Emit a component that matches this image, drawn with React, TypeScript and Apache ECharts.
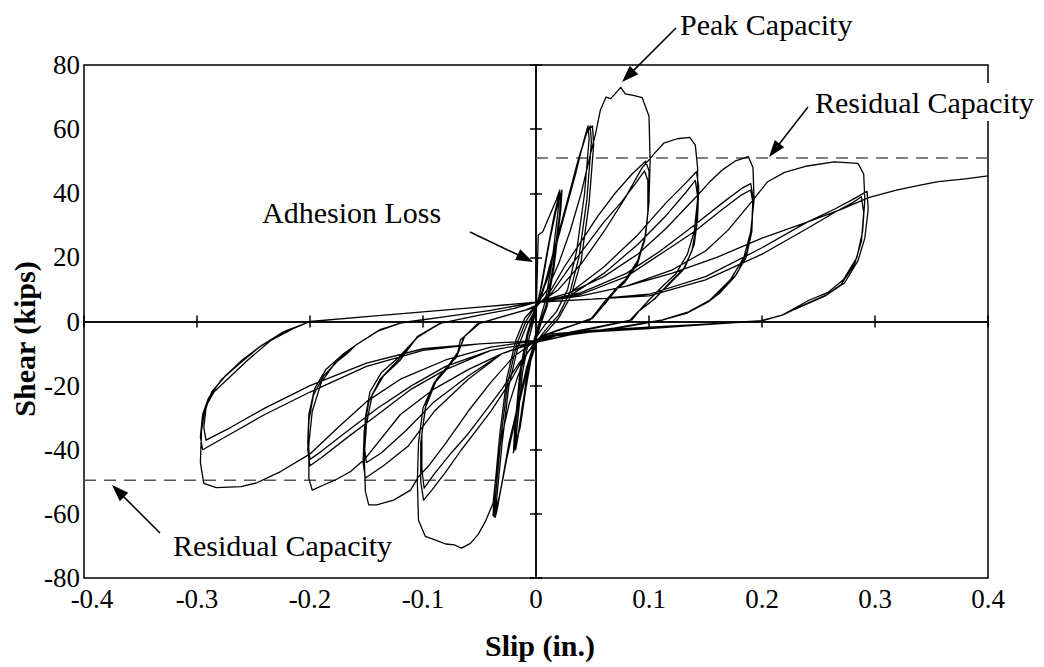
import { useEffect, useRef } from "react";
import * as echarts from "echarts";

// ---- Data (slip in inches, shear in kips) ----
const adhesionCycles: number[][] = [
  [0, 0], [0.001, 14], [0.002, 27], [0.006, 28], [0.012, 33], [0.018, 38], [0.021, 41], [0.02, 36], [0.014, 18], [0.008, 6], [0.003, 0],
  [-0.002, -6], [-0.007, -16], [-0.012, -26], [-0.016, -36], [-0.018, -40], [-0.017, -34], [-0.012, -16], [-0.006, -5], [-0.001, 2],
  [0.004, 10], [0.01, 22], [0.016, 33], [0.02, 39], [0.022, 40], [0.021, 34], [0.015, 17], [0.009, 5], [0.003, -1],
  [-0.003, -8], [-0.009, -19], [-0.013, -30], [-0.017, -38], [-0.019, -40], [-0.018, -33], [-0.013, -15], [-0.007, -4], [-0.001, 3],
  [0.005, 11], [0.012, 25], [0.018, 35], [0.023, 41], [0.022, 35], [0.016, 17], [0.01, 5], [0.004, -1],
  [-0.003, -9], [-0.009, -21], [-0.014, -33], [-0.02, -41], [-0.019, -34], [-0.014, -15], [-0.008, -4], [-0.002, 3],
];

const cycles005: number[][] = [
  [0.005, 8], [0.015, 20], [0.025, 33], [0.035, 46], [0.042, 56], [0.046, 61], [0.047, 57], [0.043, 40], [0.036, 22], [0.028, 10], [0.018, 3], [0.008, -1],
  [0, -5], [-0.008, -14], [-0.016, -26], [-0.024, -38], [-0.03, -50], [-0.034, -58], [-0.036, -61], [-0.035, -56], [-0.03, -38], [-0.024, -20], [-0.016, -8], [-0.008, -1], [0, 4],
  [0.008, 12], [0.018, 25], [0.028, 38], [0.037, 50], [0.044, 58], [0.048, 61], [0.049, 56], [0.045, 38], [0.038, 20], [0.03, 9], [0.02, 2], [0.01, -2],
  [0.001, -6], [-0.008, -15], [-0.017, -28], [-0.025, -41], [-0.031, -52], [-0.035, -59], [-0.037, -61], [-0.036, -55], [-0.031, -36], [-0.025, -19], [-0.017, -7], [-0.009, 0], [0, 5],
  [0.01, 13], [0.02, 27], [0.03, 40], [0.039, 52], [0.045, 59], [0.05, 61], [0.051, 55], [0.047, 37], [0.04, 19], [0.031, 8], [0.02, 1], [0.01, -3],
  [0, -7], [-0.009, -17], [-0.018, -30], [-0.026, -43], [-0.032, -54], [-0.036, -59], [-0.038, -60.5], [-0.037, -54], [-0.032, -35], [-0.026, -18], [-0.018, -6], [-0.01, 1], [0, 5],
];

const cycles010: number[][] = [
  [0.01, 10], [0.02, 18], [0.03, 28], [0.04, 40], [0.048, 52], [0.053, 59], [0.057, 66], [0.062, 70], [0.066, 69.5], [0.07, 71], [0.075, 73], [0.079, 71], [0.086, 70.5], [0.094, 69.8], [0.1, 64],
  [0.101, 50], [0.1, 38], [0.097, 27], [0.09, 18], [0.078, 12], [0.068, 9], [0.062, 6.7], [0.048, 0.5], [0.025, -2], [0.005, -4.5],
  [0, -6], [-0.008, -10], [-0.016, -17], [-0.024, -26], [-0.031, -37], [-0.036, -50], [-0.038, -56.7], [-0.045, -62.5], [-0.051, -66.3], [-0.058, -69.2], [-0.066, -70.7], [-0.072, -69.7], [-0.08, -69.4], [-0.09, -68], [-0.098, -67], [-0.104, -62],
  [-0.105, -50], [-0.104, -38], [-0.1, -27], [-0.09, -19], [-0.078, -14], [-0.07, -11], [-0.067, -5.8], [-0.05, -0.6], [-0.025, 2], [0, 4.5],
  [0.012, 9], [0.025, 17], [0.04, 25], [0.055, 33], [0.07, 40], [0.085, 46], [0.097, 50], [0.1, 47], [0.1, 37], [0.097, 27], [0.09, 19], [0.079, 13], [0.07, 10], [0.062, 6], [0.05, 1], [0.03, -1.5], [0.01, -4],
  [0, -6], [-0.012, -12], [-0.025, -20], [-0.04, -28], [-0.055, -35], [-0.066, -40], [-0.08, -47], [-0.092, -52.5], [-0.0995, -55.7], [-0.102, -50], [-0.102, -38], [-0.098, -27], [-0.089, -19], [-0.077, -14], [-0.069, -10], [-0.064, -5], [-0.052, -0.8], [-0.03, 1.5], [-0.01, 3.5], [0, 5],
  [0.014, 9], [0.03, 17], [0.045, 24], [0.06, 31], [0.075, 37], [0.088, 43], [0.096, 47], [0.099, 44], [0.099, 34], [0.096, 25], [0.089, 18], [0.078, 12.5], [0.069, 9], [0.061, 5.5], [0.049, 1], [0.03, -1.5], [0.01, -4],
  [0, -6.5], [-0.015, -13], [-0.03, -21], [-0.045, -28], [-0.06, -35], [-0.075, -41], [-0.09, -47.5], [-0.099, -52], [-0.101, -46], [-0.101, -35], [-0.097, -25], [-0.088, -18], [-0.076, -13], [-0.068, -9], [-0.063, -4.5], [-0.051, -0.7], [-0.03, 1.5], [-0.01, 3.5], [0, 5],
];

const cycles015: number[][] = [
  [0.02, 10], [0.04, 18], [0.06, 28], [0.078, 38], [0.094, 48], [0.105, 52.5], [0.113, 55.6], [0.125, 57], [0.136, 57.4], [0.141, 55], [0.143, 48], [0.143, 38], [0.14, 28], [0.134, 21], [0.124, 15], [0.112, 11], [0.1, 6.7], [0.092, 3.6], [0.085, 0.5], [0.05, -2], [0.02, -4],
  [0, -6], [-0.02, -11], [-0.04, -19], [-0.06, -28], [-0.08, -38], [-0.095, -45], [-0.104, -48.4], [-0.111, -52.6], [-0.126, -55.7], [-0.141, -57.2], [-0.148, -57.2], [-0.151, -53], [-0.152, -42], [-0.15, -32], [-0.145, -23], [-0.135, -17], [-0.12, -12], [-0.105, -4.7], [-0.085, -0.6], [-0.05, 2], [-0.02, 4], [0, 6],
  [0.03, 9], [0.06, 17], [0.09, 27], [0.115, 37], [0.132, 43], [0.142, 46.7], [0.144, 42], [0.143, 32], [0.14, 24], [0.132, 17], [0.118, 12], [0.105, 7], [0.092, 3.6], [0.085, 0.5], [0.05, -2], [0.02, -4],
  [0, -6], [-0.03, -10], [-0.06, -18], [-0.09, -28], [-0.113, -38.8], [-0.135, -45], [-0.151, -48.8], [-0.153, -44], [-0.152, -34], [-0.148, -25], [-0.138, -18], [-0.122, -12], [-0.105, -5], [-0.085, -0.6], [-0.05, 2], [-0.02, 4], [0, 6],
  [0.03, 8], [0.06, 15], [0.09, 24], [0.115, 33], [0.132, 40], [0.141, 44], [0.143, 39], [0.142, 30], [0.138, 22], [0.13, 16], [0.116, 11], [0.103, 6.5], [0.09, 3], [0.083, 0.3], [0.05, -2.2], [0.02, -4.2],
  [0, -6.5], [-0.03, -10], [-0.06, -17], [-0.09, -25], [-0.115, -34], [-0.137, -41], [-0.15, -44], [-0.152, -39], [-0.151, -30], [-0.147, -22], [-0.137, -16], [-0.121, -11], [-0.104, -4.5], [-0.084, -0.5], [-0.05, 2], [-0.02, 4], [0, 6],
];

const cycles020: number[][] = [
  [0.03, 9], [0.06, 14], [0.09, 21], [0.115, 29], [0.142, 39], [0.155, 44], [0.165, 47.3], [0.176, 50], [0.188, 51.4], [0.192, 48], [0.193, 38], [0.19, 28], [0.184, 20], [0.172, 13], [0.154, 6.7], [0.135, 3], [0.112, 0.5], [0.07, -2], [0.03, -4],
  [0, -6.5], [-0.03, -10], [-0.06, -15], [-0.09, -21], [-0.12, -29], [-0.151, -42.7], [-0.164, -46.8], [-0.178, -49.5], [-0.188, -51], [-0.198, -52.6], [-0.201, -49], [-0.201, -38], [-0.198, -28], [-0.19, -19], [-0.178, -13], [-0.167, -10], [-0.16, -7.5], [-0.14, -3], [-0.12, -0.5], [-0.08, 1.5], [-0.04, 3.5], [0, 6],
  [0.04, 9], [0.08, 15], [0.11, 22], [0.14, 30], [0.165, 37], [0.182, 41.5], [0.19, 43], [0.192, 39], [0.191, 30], [0.187, 22], [0.178, 15], [0.165, 10], [0.154, 6.7], [0.135, 3], [0.112, 0.5], [0.07, -2], [0.03, -4],
  [0, -6.5], [-0.04, -9], [-0.08, -15], [-0.11, -21], [-0.14, -29], [-0.17, -37], [-0.19, -42.5], [-0.2, -45], [-0.202, -40], [-0.201, -31], [-0.197, -23], [-0.188, -17], [-0.172, -11], [-0.16, -7.5], [-0.14, -3], [-0.12, -0.5], [-0.08, 1.5], [-0.04, 3.5], [0, 6],
  [0.04, 8.5], [0.08, 14], [0.11, 21], [0.14, 28], [0.165, 35], [0.182, 39.5], [0.19, 41], [0.192, 37], [0.191, 28], [0.186, 20], [0.176, 14], [0.163, 9], [0.152, 6], [0.133, 2.5], [0.11, 0.3], [0.07, -2.2], [0.03, -4.2],
  [0, -6.5], [-0.04, -9], [-0.08, -14], [-0.11, -20], [-0.14, -27], [-0.17, -35], [-0.19, -40.5], [-0.2, -43], [-0.202, -38], [-0.201, -29], [-0.196, -21], [-0.186, -15], [-0.17, -10], [-0.158, -7], [-0.138, -2.5], [-0.118, -0.3], [-0.08, 1.5], [-0.04, 3.5], [0, 6],
];

const cycles030: number[][] = [
  [0.04, 8], [0.08, 11], [0.12, 16], [0.15, 22], [0.17, 28.5], [0.19, 37], [0.205, 43.6], [0.22, 46.5], [0.24, 48.5], [0.264, 49.8], [0.285, 49.3], [0.29, 46], [0.291, 38], [0.289, 28], [0.284, 20], [0.272, 13], [0.258, 9], [0.242, 6.7], [0.218, 2], [0.2, 0.3], [0.15, -0.8], [0.1, -1.8], [0.05, -2.8], [0.01, -4],
  [0, -6], [-0.04, -8], [-0.08, -12], [-0.12, -18], [-0.15, -25], [-0.175, -33], [-0.2, -41.3], [-0.226, -46.8], [-0.247, -50.3], [-0.261, -51.5], [-0.283, -51.8], [-0.294, -50.5], [-0.297, -44], [-0.296, -34], [-0.293, -27], [-0.285, -22], [-0.27, -17], [-0.255, -12], [-0.235, -6], [-0.215, -2.2], [-0.2, 0], [-0.15, 1.5], [-0.1, 3], [-0.05, 4.5], [0, 6],
  [0.05, 7], [0.1, 8.5], [0.15, 14], [0.2, 23], [0.24, 31], [0.264, 35], [0.28, 38], [0.293, 40.6], [0.294, 35], [0.291, 26], [0.285, 19], [0.273, 12], [0.258, 8.5], [0.242, 6], [0.218, 2], [0.2, 0.3], [0.15, -0.8], [0.1, -2], [0.05, -3], [0.01, -4.5],
  [0, -6], [-0.05, -7], [-0.1, -9], [-0.15, -14], [-0.2, -22], [-0.24, -29], [-0.27, -35], [-0.295, -40], [-0.297, -36], [-0.295, -29], [-0.29, -24], [-0.278, -18], [-0.262, -13], [-0.245, -8], [-0.225, -3.5], [-0.2, 0], [-0.15, 1.5], [-0.1, 3], [-0.05, 4.5], [0, 6],
  [0.05, 7], [0.1, 8], [0.15, 13], [0.2, 21], [0.24, 29], [0.264, 34], [0.28, 37], [0.288, 38.9], [0.29, 34], [0.288, 25], [0.282, 18], [0.27, 11.5], [0.256, 8], [0.24, 5.5], [0.216, 1.8], [0.2, 0.2], [0.15, -1], [0.1, -2.2], [0.05, -3.2], [0.01, -4.7],
  [0, -6], [-0.05, -7], [-0.1, -8.5], [-0.15, -13], [-0.2, -20], [-0.24, -27], [-0.27, -33], [-0.292, -37], [-0.294, -33], [-0.292, -27], [-0.287, -22], [-0.275, -17], [-0.26, -12], [-0.243, -7.5], [-0.222, -3], [-0.2, 0], [-0.15, 1.5], [-0.1, 3], [-0.05, 4.5], [0, 6],
];

const finalPush: number[][] = [
  [0.04, 8], [0.08, 11], [0.12, 15], [0.16, 20], [0.2, 26], [0.24, 31], [0.27, 35], [0.295, 38.7], [0.319, 41], [0.34, 42.5], [0.356, 43.6], [0.38, 44.5], [0.4, 45.4],
];

const residualPositive: number[][] = [[0, 51], [0.4, 51]];
const residualNegative: number[][] = [[-0.4, -49.5], [0, -49.5]];

const xRange = [-0.4, 0.4];
const xStep = 0.1;
const yRange = [-80, 80];
const yStep = 20;

const hysteresis = [
  ...adhesionCycles,
  ...cycles005,
  ...cycles010,
  ...cycles015,
  ...cycles020,
  ...cycles030,
  ...finalPush,
];

const SERIF = "Liberation Serif";

function arrow(sx: number, sy: number, tx: number, ty: number) {
  const dx = tx - sx;
  const dy = ty - sy;
  const len = Math.sqrt(dx * dx + dy * dy);
  const ux = dx / len;
  const uy = dy / len;
  const head = 17;
  const half = 6;
  const bx = tx - ux * head;
  const by = ty - uy * head;
  const nx = -uy;
  const ny = ux;
  return [
    {
      type: "line",
      z: 100,
      shape: { x1: sx, y1: sy, x2: bx + ux * 2, y2: by + uy * 2 },
      style: { stroke: "#000", lineWidth: 1.5 },
    },
    {
      type: "polygon",
      z: 100,
      shape: {
        points: [
          [tx, ty],
          [bx + nx * half, by + ny * half],
          [bx - nx * half, by - ny * half],
        ],
      },
      style: { fill: "#000" },
    },
  ];
}

function label(text: string, x: number, y: number, bg = false) {
  return {
    type: "text",
    z: bg ? 90 : 100,
    x,
    y,
    style: {
      text,
      fontFamily: SERIF,
      fontSize: 30,
      fill: "#000",
      align: "left",
      verticalAlign: "middle",
      backgroundColor: bg ? "#fff" : undefined,
      padding: bg ? [4, 4, 4, 4] : undefined,
    },
  };
}

export default function App() {
  const ref = useRef<HTMLDivElement>(null);

  useEffect(() => {
    if (!ref.current) return;
    const chart = echarts.init(ref.current, undefined, { renderer: "svg" });

    const axisLineStyle = { color: "#000", width: 1.5 };
    const tickLabel = { fontFamily: SERIF, fontSize: 27, color: "#000" };

    const option: any = {
      animation: false,
      backgroundColor: "#fff",
      textStyle: { fontFamily: SERIF },
      grid: [
        { left: 84, right: 56, top: 65, bottom: 89, show: true, borderColor: "#000", borderWidth: 1.5, backgroundColor: "transparent" },
        { left: 84, right: 56, top: 65, bottom: 89 },
      ],
      xAxis: [
        {
          gridIndex: 0, type: "value", min: xRange[0], max: xRange[1], interval: xStep, position: "bottom",
          axisLine: { show: false, onZero: false }, axisTick: { show: false }, splitLine: { show: false },
          axisLabel: {
            ...tickLabel, margin: 10, lineHeight: 22,
            formatter: (v: number) => (v <= xRange[0] + 1e-9 ? "{first|" + v + "}" : String(Math.round(v * 10) / 10)),
            rich: { first: { fontFamily: SERIF, fontSize: 27, color: "#000", padding: [0, 0, 0, 16] } },
          },
        },
        {
          gridIndex: 0, type: "value", min: xRange[0], max: xRange[1], interval: xStep, position: "top",
          axisLine: { show: true, onZero: true, lineStyle: axisLineStyle },
          axisTick: { show: true, length: 6, lineStyle: axisLineStyle }, axisLabel: { show: false }, splitLine: { show: false },
        },
        {
          gridIndex: 1, type: "value", min: xRange[0], max: xRange[1], interval: xStep, position: "bottom",
          axisLine: { show: true, onZero: true, lineStyle: axisLineStyle },
          axisTick: { show: true, length: 6, lineStyle: axisLineStyle }, axisLabel: { show: false }, splitLine: { show: false },
        },
      ],
      yAxis: [
        {
          gridIndex: 0, type: "value", min: yRange[0], max: yRange[1], interval: yStep, position: "left",
          axisLine: { show: false, onZero: false }, axisTick: { show: false }, splitLine: { show: false },
          axisLabel: { ...tickLabel, margin: 4, lineHeight: 20 },
        },
        {
          gridIndex: 0, type: "value", min: yRange[0], max: yRange[1], interval: yStep, position: "right",
          axisLine: { show: true, onZero: true, lineStyle: axisLineStyle },
          axisTick: { show: true, length: 6, lineStyle: axisLineStyle }, axisLabel: { show: false }, splitLine: { show: false },
        },
        {
          gridIndex: 1, type: "value", min: yRange[0], max: yRange[1], interval: yStep, position: "left",
          axisLine: { show: true, onZero: true, lineStyle: axisLineStyle },
          axisTick: { show: true, length: 6, lineStyle: axisLineStyle }, axisLabel: { show: false }, splitLine: { show: false },
        },
      ],
      series: [
        {
          name: "Residual capacity (+)", type: "line", xAxisIndex: 0, yAxisIndex: 0, data: residualPositive,
          showSymbol: false, silent: true, z: 1,
          lineStyle: { color: "#555", width: 1.5, type: [12, 8] },
        },
        {
          name: "Residual capacity (-)", type: "line", xAxisIndex: 0, yAxisIndex: 0, data: residualNegative,
          showSymbol: false, silent: true, z: 1,
          lineStyle: { color: "#555", width: 1.5, type: [12, 8] },
        },
        {
          name: "Hysteresis", type: "line", xAxisIndex: 0, yAxisIndex: 0, data: hysteresis,
          showSymbol: false, silent: true, z: 3, clip: true,
          lineStyle: { color: "#000", width: 1.3, join: "round" },
        },
      ],
      graphic: [
        {
          type: "text", z: 100, x: 24, y: 339, rotation: Math.PI / 2,
          style: { text: "Shear (kips)", fontFamily: SERIF, fontSize: 30, fontWeight: "bold", fill: "#000", align: "center", verticalAlign: "middle" },
        },
        {
          type: "text", z: 100, x: 540, y: 645,
          style: { text: "Slip (in.)", fontFamily: SERIF, fontSize: 30, fontWeight: "bold", fill: "#000", align: "center", verticalAlign: "middle" },
        },
        label("Peak Capacity", 680, 24),
        ...arrow(676, 28, 622, 82),
        label("Residual Capacity", 811, 102, true),
        ...arrow(808, 107, 769, 157),
        label("Adhesion Loss", 262, 212),
        ...arrow(470, 232, 533, 262),
        label("Residual Capacity", 173, 545),
        ...arrow(160, 533, 112, 485),
      ],
    };

    chart.setOption(option);
    return () => chart.dispose();
  }, []);

  return (
    <div
      ref={ref}
      style={{ position: "fixed", left: 0, top: 0, width: 1044, height: 667, background: "#fff" }}
    />
  );
}
